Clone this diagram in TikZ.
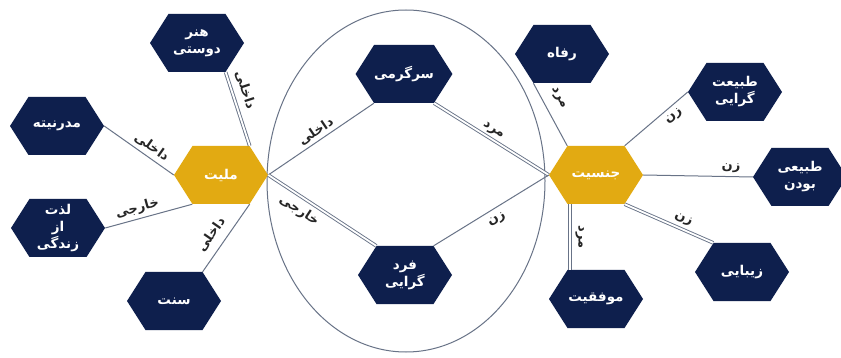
\documentclass[tikz,border=0pt]{standalone}
\usepackage{fontspec}
\TeXXeTstate=1
\newfontfamily\arabicfont[Script=Arabic]{DejaVu Sans}
\usetikzlibrary{shapes.symbols,calc}
\definecolor{navy}{HTML}{0E1F4D}
\definecolor{gold}{HTML}{E2AA12}
\definecolor{lnc}{HTML}{687387}
\newcommand{\fa}[1]{\beginR #1\endR}
\begin{document}
\begin{tikzpicture}[x=1pt,y=-1pt,
 hexbox/.style={signal, signal to=east and west, signal pointer angle=115,
   minimum width=94pt, minimum height=58pt, inner sep=0pt, draw=none,
   fill=navy, text=white, font=\arabicfont\bfseries\fontsize{13.5}{17}\selectfont, align=center},
 goldhex/.style={hexbox, fill=gold},
 conn/.style={draw=lnc, line width=1pt},
 dconn/.style={draw=lnc, line width=0.9pt, double=white, double distance=1.8pt},
 lbl/.style={font=\arabicfont\bfseries\fontsize{13}{15}\selectfont, text=black!85, sloped, inner sep=1pt}]
\useasboundingbox (0,0) rectangle (841,358);
\fill[white] (0,0) rectangle (841,358);

\draw[draw=lnc, line width=1pt] (406,181) ellipse [x radius=139pt, y radius=171pt];

\node[hexbox]  (honar)  at (197,43)  {\fa{هنر}\\\fa{دوستی}};
\node[hexbox]  (modern) at (57,126)  {\fa{مدرنیته}};
\node[goldhex] (mel)    at (221,175) {\fa{ملیت}};
\node[hexbox]  (lezat)  at (58,228)  {\fa{لذت}\\\fa{از}\\\fa{زندگی}};
\node[hexbox]  (sonnat) at (174,301) {\fa{سنت}};
\node[hexbox]  (sarg)   at (404,74)  {\fa{سرگرمی}};
\node[hexbox]  (fard)   at (405,275) {\fa{فرد}\\\fa{گرایی}};
\node[hexbox]  (refah)  at (562,54)  {\fa{رفاه}};
\node[hexbox]  (tabiat) at (735,92)  {\fa{طبیعت}\\\fa{گرایی}};
\node[goldhex] (jens)   at (596,175) {\fa{جنسیت}};
\node[hexbox]  (tabiei) at (800,177) {\fa{طبیعی}\\\fa{بودن}};
\node[hexbox]  (zibai)  at (742,272) {\fa{زیبایی}};
\node[hexbox]  (movaf)  at (596,299) {\fa{موفقیت}};

\path[conn] (modern.east) -- node[lbl, pos=0.6, above=3pt] {\fa{داخلی}} (mel.west);
\path[conn] (lezat.east) -- node[lbl, pos=0.4, above=2pt] {\fa{خارجی}} (mel.south west);
\path[conn] (sonnat.north east) -- node[lbl, pos=0.43, above=7pt] {\fa{داخلی}} (mel.south east);
\path[dconn] (honar.south east) -- node[lbl, pos=0.3, above=6pt] {\fa{داخلی}} (mel.north east);
\path[conn] (mel.east) -- node[lbl, pos=0.5, above=2pt] {\fa{داخلی}} (sarg.south west);
\path[dconn] (mel.east) -- node[lbl, pos=0.35, below=5pt] {\fa{خارجی}} (fard.north west);
\path[dconn] (sarg.south east) -- node[lbl, pos=0.48, above=2pt] {\fa{مرد}} (jens.west);
\path[conn] (fard.north east) -- node[lbl, pos=0.5, below=5pt] {\fa{زن}} (jens.west);
\path[conn] (refah.south west) -- node[lbl, pos=0.35, above=9pt] {\fa{مرد}} (jens.north west);
\path[conn] (jens.north east) -- node[lbl, pos=0.68, below=4pt] {\fa{زن}} (tabiat.west);
\path[conn] (jens.east) -- node[lbl, pos=0.8, above=2pt] {\fa{زن}} (tabiei.west);
\path[dconn] (jens.south east) -- node[lbl, pos=0.62, above=3pt] {\fa{زن}} (zibai.north west);
\path[dconn] ([xshift=-26pt]jens.south) -- node[lbl, pos=0.5, above=4pt] {\fa{مرد}} ([xshift=-26pt]movaf.north);
\end{tikzpicture}
\end{document}
